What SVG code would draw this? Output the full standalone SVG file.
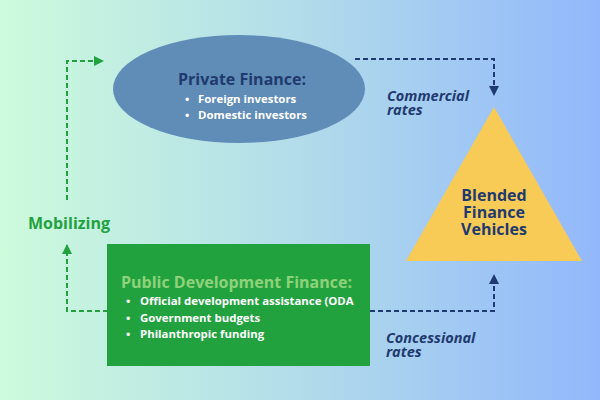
<svg xmlns="http://www.w3.org/2000/svg" width="600" height="400" viewBox="0 0 600 400">
<defs>
<linearGradient id="bg" x1="0" y1="0" x2="1" y2="0">
<stop offset="0" stop-color="#cdfbdc"/>
<stop offset="0.5" stop-color="#b2dcea"/>
<stop offset="1" stop-color="#92b8fb"/>
</linearGradient>
<marker id="ag" viewBox="0 0 10 10" refX="9" refY="5" markerWidth="10" markerHeight="10" markerUnits="userSpaceOnUse" orient="auto">
<path d="M0,0 L10,5 L0,10 Z" fill="#22a23f"/>
</marker>
<marker id="an" viewBox="0 0 10 10" refX="9" refY="5" markerWidth="10" markerHeight="10" markerUnits="userSpaceOnUse" orient="auto">
<path d="M0,0 L10,5 L0,10 Z" fill="#1f3a6e"/>
</marker>
</defs>
<style>
text{font-family:"Open Sans","Noto Sans","Liberation Sans",sans-serif;font-weight:bold}
.navy{fill:#1f3a6e}
.white{fill:#ffffff;font-size:11.4px}
.lbl{font-style:italic;font-size:14.5px;fill:#1f3a6e}
.g{stroke:#22a23f;stroke-width:2;fill:none;stroke-dasharray:5,3}
.n{stroke:#1f3a6e;stroke-width:2;fill:none;stroke-dasharray:5,3}
</style>
<rect width="600" height="400" fill="url(#bg)"/>
<g id="connectors">
<path class="g" d="M67,200 V61 H103" marker-end="url(#ag)"/>
<path class="g" d="M108,311 H67 V245" marker-end="url(#ag)"/>
<path class="n" d="M355,59 H494 V95" marker-end="url(#an)"/>
<path class="n" d="M370,311 H494 V275" marker-end="url(#an)"/>
</g>
<g id="private">
<ellipse cx="239" cy="89" rx="126" ry="54" fill="#5f8db8"/>
<text x="242" y="85" text-anchor="middle" class="navy" font-size="16">Private Finance:</text>
<text x="185" y="103" class="white">•</text>
<text x="198" y="103" class="white">Foreign investors</text>
<text x="185" y="119" class="white">•</text>
<text x="198" y="119" class="white">Domestic investors</text>
</g>
<g id="public">
<rect x="107" y="244" width="263" height="122" fill="#22a23f"/>
<text x="121" y="288" font-size="16" fill="#8fd27a">Public Development Finance:</text>
<text x="126" y="305" class="white">•</text>
<text x="140" y="305" class="white">Official development assistance (ODA</text>
<text x="126" y="322" class="white">•</text>
<text x="140" y="322" class="white">Government budgets</text>
<text x="126" y="338" class="white">•</text>
<text x="140" y="338" class="white">Philanthropic funding</text>
</g>
<g id="blended">
<polygon points="494,107 406,261 582,261" fill="#f7cb55"/>
<text x="494" y="201" text-anchor="middle" class="navy" font-size="16">Blended</text>
<text x="494" y="218" text-anchor="middle" class="navy" font-size="16">Finance</text>
<text x="494" y="235" text-anchor="middle" class="navy" font-size="16">Vehicles</text>
</g>
<g id="labels">
<text x="28" y="229" font-size="16" fill="#22a23f">Mobilizing</text>
<text x="387" y="101" class="lbl">Commercial</text>
<text x="387" y="115" class="lbl">rates</text>
<text x="386" y="343" class="lbl">Concessional</text>
<text x="386" y="357" class="lbl">rates</text>
</g>
</svg>
